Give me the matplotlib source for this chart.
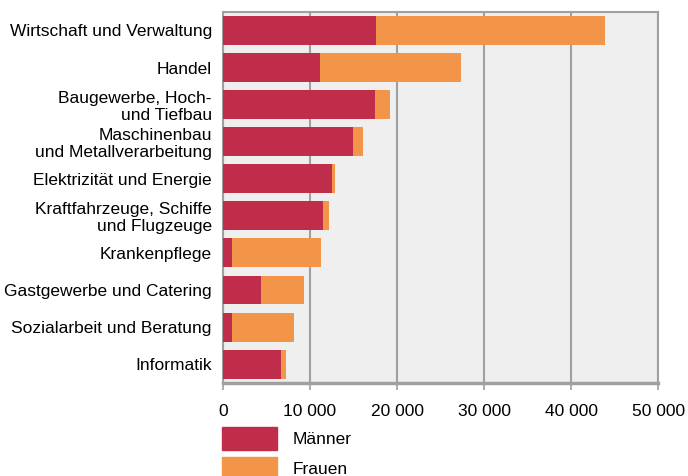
import matplotlib.pyplot as plt
from matplotlib.patches import Patch
from matplotlib import font_manager

# Data
categories = ['Wirtschaft und Verwaltung', 'Handel', 'Baugewerbe, Hoch-\nund Tiefbau',
              'Maschinenbau\nund Metallverarbeitung', 'Elektrizität und Energie',
              'Kraftfahrzeuge, Schiffe\nund Flugzeuge', 'Krankenpflege',
              'Gastgewerbe und Catering', 'Sozialarbeit und Beratung', 'Informatik']
maenner = [17550, 11100, 17450, 14900, 12500, 11450, 1100, 4350, 1000, 6650]
frauen = [26350, 16250, 1750, 1150, 350, 700, 10150, 4950, 7150, 550]
xticks = [0, 10000, 20000, 30000, 40000, 50000]
xtick_labels = ['0', '10 000', '20 000', '30 000', '40 000', '50 000']

names = {f.name for f in font_manager.fontManager.ttflist}
font = 'Liberation Sans Narrow' if 'Liberation Sans Narrow' in names else 'Liberation Sans'
plt.rcParams['font.family'] = [font, 'DejaVu Sans']
fs = 13.5 if font == 'Liberation Sans Narrow' else 12.5

male_color = '#BF2D4B'
female_color = '#F39549'
grey = '#A0A0A0'

fig = plt.figure(figsize=(6.88, 4.76), dpi=100)
ax = fig.add_axes([0.324, 0.196, 0.633, 0.779])
ax.set_facecolor('#EFEFEF')

y = list(range(len(categories)))
ax.barh(y, maenner, height=0.78, color=male_color, zorder=3)
ax.barh(y, frauen, left=maenner, height=0.78, color=female_color, zorder=3)

ax.set_xlim(0, 50000)
ax.set_ylim(len(categories) - 0.5, -0.5)
ax.set_yticks(y)
ax.set_yticklabels(categories, fontsize=fs, linespacing=1.15)
ax.set_xticks(xticks)
ax.set_xticklabels(xtick_labels, fontsize=fs)
ax.tick_params(axis='y', length=0, pad=8)
ax.tick_params(axis='x', length=5, color=grey, width=1.2, pad=10)
ax.grid(axis='x', color=grey, linewidth=1.5, zorder=1)
for s in ax.spines.values():
    s.set_color(grey)
    s.set_linewidth(1.5)
ax.spines['bottom'].set_linewidth(2.5)

handles = [Patch(color=male_color, label='Männer'), Patch(color=female_color, label='Frauen')]
fig.legend(handles=handles, loc='upper left', bbox_to_anchor=(0.322, 0.102), frameon=False,
           fontsize=fs, handlelength=3.2, handleheight=1.6, labelspacing=0.4, handletextpad=0.9,
           borderaxespad=0, borderpad=0)

fig.savefig('out.png', dpi=100)
